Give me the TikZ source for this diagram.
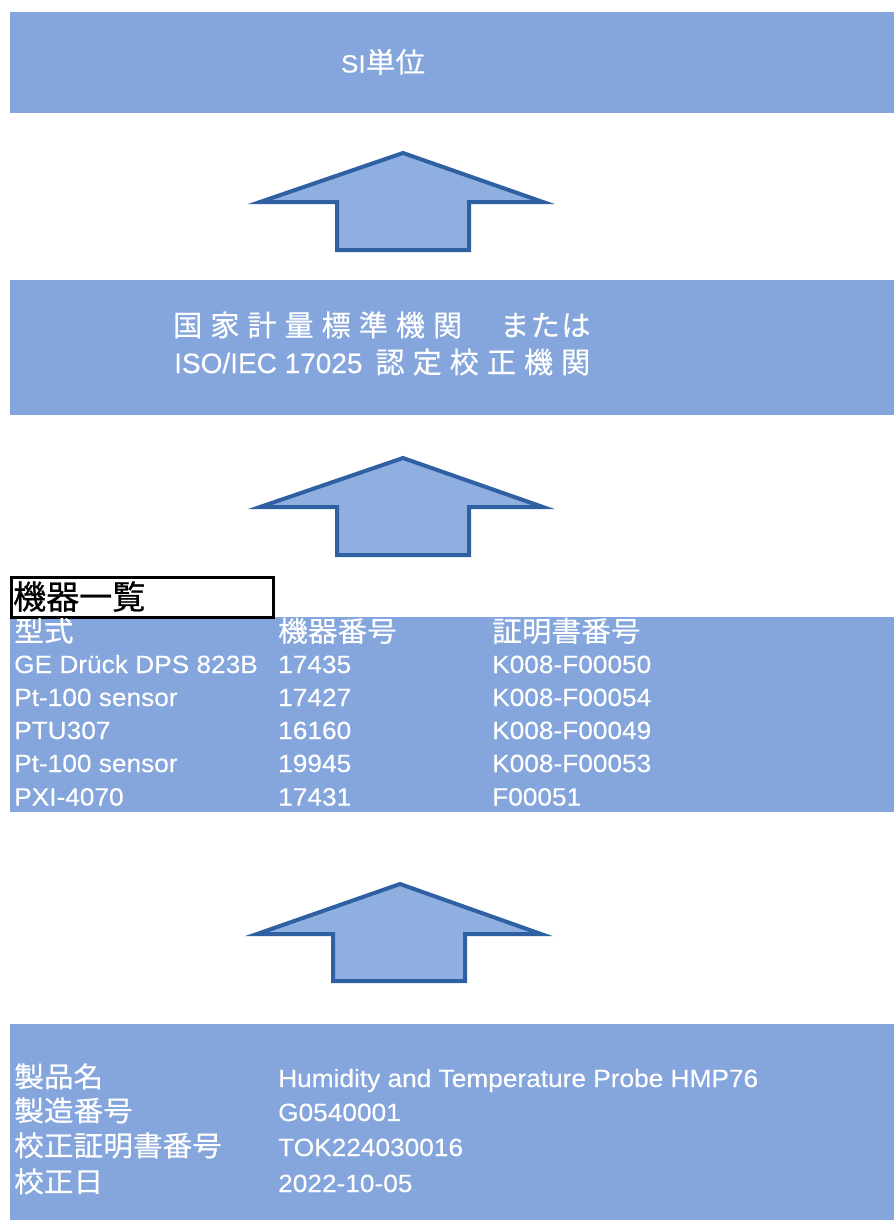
\documentclass[tikz,border=0pt]{standalone}
\usepackage{fontspec}
\setmainfont{Liberation Sans}[FakeStretch=1.05, FakeBold=0.2]
\newfontfamily\plain{Liberation Sans}[FakeBold=0.2]
\newfontfamily\jp{Noto Sans CJK JP}[Scale=1.12, FakeStretch=1.06, FakeBold=0.4]
\newfontfamily\jpn{Noto Sans CJK JP}[Scale=1.12, FakeBold=0.4]
\newfontfamily\jpb{Noto Sans CJK JP}[FakeBold=0.8]
\newcommand{\J}[1]{{\jp #1}}
\newcommand{\kg}{\hspace{8pt}}
\definecolor{boxblue}{RGB}{133,166,220}
\definecolor{arrowfill}{RGB}{143,175,225}
\definecolor{arrowline}{RGB}{46,96,162}
\tikzset{
  band/.style={fill=boxblue, draw=none},
  uparrow/.style={fill=arrowfill, draw=arrowline, line width=4pt, line join=miter},
  wtxt/.style={text=white, anchor=base west, inner sep=0pt, font=\fontsize{25}{28}\selectfont},
  ctxt/.style={text=white, anchor=base, inner sep=0pt, font=\fontsize{25}{28}\selectfont},
}
\begin{document}
\begin{tikzpicture}[x=1pt,y=-1pt]
\useasboundingbox (0,0) rectangle (894,1227);
\fill[white] (0,0) rectangle (894,1227);
% bands
\path[band] (10,12) rectangle (894,113);
\path[band] (10,280) rectangle (894,415);
\path[band] (10,617) rectangle (894,812);
\path[band] (10,1024) rectangle (894,1220);
% arrows
\draw[uparrow] (403,153) -- (543,202) -- (469,202) -- (469,250) -- (337,250) -- (337,202) -- (260,202) -- cycle;
\draw[uparrow] (403,458) -- (543,507) -- (469,507) -- (469,555) -- (337,555) -- (337,507) -- (260,507) -- cycle;
\draw[uparrow] (400,884) -- (541,934) -- (465,934) -- (465,981) -- (333,981) -- (333,934) -- (257,934) -- cycle;
% texts
\node[ctxt] (si) at (383,72.5) {SI\J{単位}};
\node[text=white, anchor=base west, inner sep=0pt, font=\fontsize{26}{28}\jpn] (nat1) at (173,336)
  {国\kg 家\kg 計\kg 量\kg 標\kg 準\kg 機\kg 関\hspace{38pt}ま\hspace{1.5pt}た\hspace{1.5pt}は};
\node[text=white, anchor=base west, inner sep=0pt, font=\fontsize{28}{30}\plain] (nat2) at (174,373)
  {ISO/IEC 17025{\fontsize{26}{28}\jpn\hspace{13pt}認\kg 定\kg 校\kg 正\kg 機\kg 関}};
% label box
\node[draw=black, line width=2.5pt, fill=white, minimum width=262pt, minimum height=40pt, anchor=north west, inner sep=0pt] (lbl) at (10,576) {};
\node[anchor=base west, inner sep=0pt, font=\fontsize{33}{36}\jpb] (lbltxt) at (13,609) {機器一覧};
% table
\node[wtxt] (h1) at (14,641.5) {\J{型式}};
\node[wtxt] (h2) at (278,641.5) {\J{機器番号}};
\node[wtxt] (h3) at (492,641.5) {\J{証明書番号}};
\node[wtxt] (r1a) at (14,673) {GE Drück DPS 823B};
\node[wtxt] (r1b) at (278,673) {17435};
\node[wtxt] (r1c) at (492,673) {K008-F00050};
\node[wtxt] (r2a) at (14,706) {Pt-100 sensor};
\node[wtxt] (r2b) at (278,706) {17427};
\node[wtxt] (r2c) at (492,706) {K008-F00054};
\node[wtxt] (r3a) at (14,739) {PTU307};
\node[wtxt] (r3b) at (278,739) {16160};
\node[wtxt] (r3c) at (492,739) {K008-F00049};
\node[wtxt] (r4a) at (14,772) {Pt-100 sensor};
\node[wtxt] (r4b) at (278,772) {19945};
\node[wtxt] (r4c) at (492,772) {K008-F00053};
\node[wtxt] (r5a) at (14,805.5) {PXI-4070};
\node[wtxt] (r5b) at (278,805.5) {17431};
\node[wtxt] (r5c) at (492,805.5) {F00051};
% product
\node[wtxt] (p1a) at (14,1087) {\J{製品名}};
\node[wtxt] (p1b) at (278,1087) {Humidity and Temperature Probe HMP76};
\node[wtxt] (p2a) at (14,1121) {\J{製造番号}};
\node[wtxt] (p2b) at (278,1121) {G0540001};
\node[wtxt] (p3a) at (14,1156) {\J{校正証明書番号}};
\node[wtxt] (p3b) at (278,1156) {TOK224030016};
\node[wtxt] (p4a) at (14,1192) {\J{校正日}};
\node[wtxt] (p4b) at (278,1192) {2022-10-05};
\end{tikzpicture}
\end{document}
